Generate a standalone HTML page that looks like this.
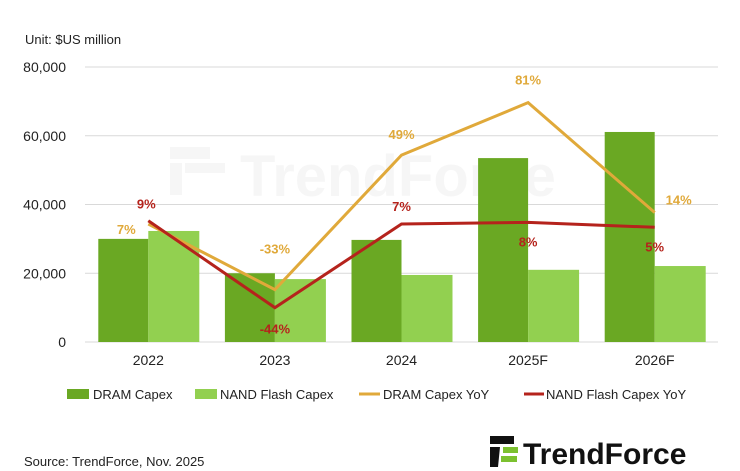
<!DOCTYPE html>
<html><head><meta charset="utf-8"><style>
body{margin:0;background:#fff;}
svg{display:block;font-family:"Liberation Sans",sans-serif;}
</style></head><body>
<svg id="chart" width="740" height="471" viewBox="0 0 740 471">
<text x="25" y="44" font-size="13" fill="#222">Unit: $US million</text>
<g id="watermark" opacity="0.03">
<rect x="170" y="147" width="40" height="12" fill="#000"/><rect x="185" y="163" width="40" height="10" fill="#000"/><rect x="170" y="163" width="12" height="32" fill="#000"/>
<text x="240" y="196" font-size="58" font-weight="bold" fill="#000">TrendForce</text>
</g>
<g id="grid"></g><g id="bars"></g><g id="lines"></g><g id="labels"></g>
<g font-size="13" fill="#222">
<rect x="67" y="389" width="22" height="10" fill="#6aa823"/>
<text x="93" y="399">DRAM Capex</text>
<rect x="195" y="389" width="22" height="10" fill="#92d050"/>
<text x="220" y="399">NAND Flash Capex</text>
<line x1="359" y1="394" x2="380" y2="394" stroke="#e0a93a" stroke-width="3"/>
<text x="383" y="399">DRAM Capex YoY</text>
<line x1="524" y1="394" x2="544" y2="394" stroke="#b5231c" stroke-width="3"/>
<text x="546" y="399">NAND Flash Capex YoY</text>
</g>
<text x="24" y="466" font-size="13" fill="#222">Source: TrendForce, Nov. 2025</text>
<g>
<rect x="490" y="436" width="24" height="8" fill="#111"/>
<polygon points="490,447 500,447 498,467 490,467" fill="#111"/>
<rect x="503" y="447" width="15" height="6" fill="#7cc130"/>
<rect x="501" y="456" width="16" height="6" fill="#7cc130"/>
<text x="523" y="464" font-size="30" font-weight="bold" fill="#111">TrendForce</text>
</g>
</svg>
<script>
const categories=["2022","2023","2024","2025F","2026F"];
const dramCapex=[30000,20000,29700,53500,61100];
const nandCapex=[32300,18300,19500,21000,22100];
const dramYoY=[7,-33,49,81,14];
const nandYoY=[9,-44,7,8,5];
const yTicks=[0,20000,40000,60000,80000];
const NS="http://www.w3.org/2000/svg";
const x0=85,x1=718,yBase=342,yTop=67;
const band=(x1-x0)/categories.length;
const xc=i=>x0+band*(i+0.5);
const y=v=>yBase-(v/80000)*(yBase-yTop);
const y2=p=>235.5-1.64*p;
function mk(t,a,p){const e=document.createElementNS(NS,t);for(const k in a)e.setAttribute(k,a[k]);document.getElementById(p).appendChild(e);return e;}
yTicks.forEach(t=>{
 const l=mk("line",{x1:x0,x2:x1,y1:y(t),y2:y(t),stroke:"#d9d9d9","stroke-width":1},"grid");
 
 
 const tx=mk("text",{x:66,y:y(t)+5,"font-size":14,fill:"#222","text-anchor":"end"},"grid");
 tx.textContent=t.toLocaleString("en-US");
 
 
});
categories.forEach((c,i)=>{
 const b1=mk("rect",{x:xc(i)-50,y:y(dramCapex[i]),width:50,height:yBase-y(dramCapex[i]),fill:"#6aa823"},"bars");
 
 
 const b2=mk("rect",{x:xc(i),y:y(nandCapex[i]),width:51,height:yBase-y(nandCapex[i]),fill:"#92d050"},"bars");
 
 
 const t=mk("text",{x:xc(i),y:365,"font-size":14,fill:"#222","text-anchor":"middle"},"labels");
 t.textContent=c;
 
 
});
const pd=dramYoY.map((p,i)=>xc(i)+","+y2(p)).join(" ");
const l1=mk("polyline",{points:pd,fill:"none",stroke:"#e0a93a","stroke-width":3},"lines");


const pn=nandYoY.map((p,i)=>xc(i)+","+y2(p)).join(" ");
const l2=mk("polyline",{points:pn,fill:"none",stroke:"#b5231c","stroke-width":3},"lines");


const dOff=[[-22,10],[0,-36],[0,-16],[0,-18],[24,-8]];
const nOff=[[-2,-12],[0,26],[0,-13],[0,24],[0,24]];
dramYoY.forEach((p,i)=>{
 const t=mk("text",{x:xc(i)+dOff[i][0],y:y2(p)+dOff[i][1],"font-size":13,"font-weight":"bold",fill:"#e0a93a","text-anchor":"middle"},"labels");
 t.textContent=p+"%";
 
 
});
nandYoY.forEach((p,i)=>{
 const t=mk("text",{x:xc(i)+nOff[i][0],y:y2(p)+nOff[i][1],"font-size":13,"font-weight":"bold",fill:"#b5231c","text-anchor":"middle"},"labels");
 t.textContent=p+"%";
 
 
});
</script>
</body></html>
